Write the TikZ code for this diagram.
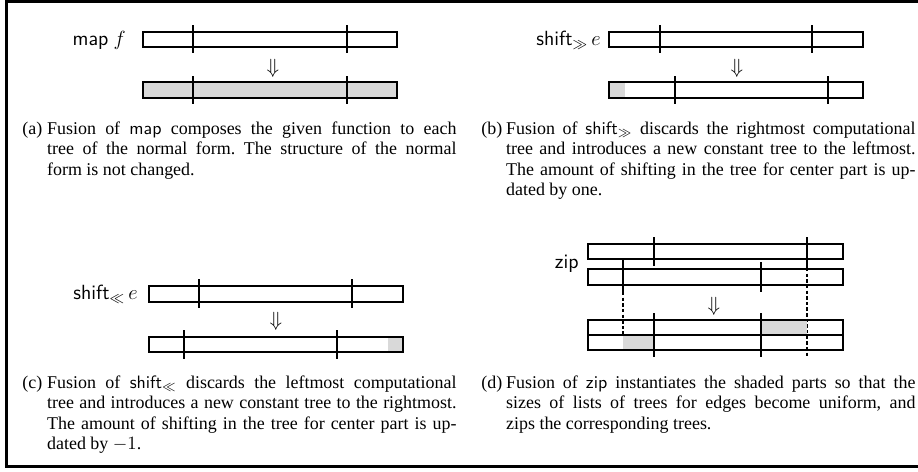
\documentclass[tikz,border=0pt]{standalone}
\usepackage{fontspec}
\setmainfont{Liberation Serif}
\tikzset{
  barbox/.style={draw, line width=0.6pt},
  grayfill/.style={fill=black!15},
  tk/.style={line width=0.8pt},
  vdash/.style={line width=0.6pt, dash pattern=on 2pt off 1.3pt},
  lbl/.style={font=\large, anchor=east, inner sep=0pt},
  arr/.style={inner sep=0pt, font=\large},
  captxt/.style={anchor=base west, inner sep=0pt},
  framestyle/.style={line width=1.75pt, line join=miter}
}
\newcommand{\capbox}[2]{\begin{minipage}[t]{254pt}\fontsize{10.5pt}{12pt}\selectfont\frenchspacing\hangindent=14.5pt\hangafter=1\noindent\makebox[14.5pt][l]{(#1)}#2\end{minipage}}
\begin{document}
\begin{tikzpicture}[x=0.585pt, y=-0.585pt]
\useasboundingbox (0,0) rectangle (918,471);
% frame
\draw[framestyle] (918,1.5) -- (6.7,1.5) -- (6.7,466) -- (918,466);

% ---------- (a) ----------
\node[lbl] (la) at (126,40) {\textsf{map} $f$};
\draw[barbox] (143,32) rectangle (397,47);
\draw[tk] (193,25) -- (193,53) (347,25) -- (347,53);
\node[arr] (aa) at (273,68) {$\Downarrow$};
\draw[barbox, grayfill] (143,82) rectangle (397,98);
\draw[tk] (193,76) -- (193,104) (347,76) -- (347,104);
\node[captxt] (ca) at (22,134) {\capbox{a}{Fusion of \textsf{map} composes the given function to each\linebreak tree of the normal form. The structure of the normal\linebreak form is not changed.}};

% ---------- (b) ----------
\node[lbl] (lb) at (601,40) {$\mathsf{shift}_{\gg}\,e$};
\draw[barbox] (609,32) rectangle (863,47);
\draw[tk] (660,25) -- (660,53) (812,25) -- (812,53);
\node[arr] (ab) at (737,68) {$\Downarrow$};
\fill[grayfill] (609,82) rectangle (625,98);
\draw[barbox] (609,82) rectangle (863,98);
\draw[tk] (675,76) -- (675,104) (828,76) -- (828,104);
\node[captxt] (cb) at (481,134) {\capbox{b}{Fusion of $\mathsf{shift}_{\gg}$ discards the rightmost computational\linebreak tree and introduces a new constant tree to the leftmost.\linebreak The amount of shifting in the tree for center part is up-\linebreak dated by one.}};

% ---------- (c) ----------
\node[lbl] (lc) at (138,294) {$\mathsf{shift}_{\ll}\,e$};
\draw[barbox] (149,286) rectangle (403,302);
\draw[tk] (199,279) -- (199,308) (352,279) -- (352,308);
\node[arr] (ac) at (276,321) {$\Downarrow$};
\fill[grayfill] (388,337) rectangle (403,352);
\draw[barbox] (149,337) rectangle (403,352);
\draw[tk] (184,330) -- (184,359) (337,330) -- (337,359);
\node[captxt] (cc) at (22,388) {\capbox{c}{Fusion of $\mathsf{shift}_{\ll}$ discards the leftmost computational\linebreak tree and introduces a new constant tree to the rightmost.\linebreak The amount of shifting in the tree for center part is up-\linebreak dated by $-1$.}};

% ---------- (d) ----------
\node[lbl] (ld) at (579,264) {\textsf{zip}};
\draw[vdash] (623,292) -- (623,335);
\draw[vdash] (807,268) -- (807,358);
\draw[barbox] (588,244) rectangle (843,259);
\draw[barbox] (588,269) rectangle (843,285);
\draw[tk] (654,237) -- (654,266) (807,237) -- (807,268);
\draw[tk] (623,258) -- (623,292) (761,262) -- (761,292);
\node[arr] (ad) at (714,306) {$\Downarrow$};
\fill[grayfill] (761,320) rectangle (807,335);
\fill[grayfill] (623,335) rectangle (654,350);
\draw[barbox] (588,320) rectangle (843,335);
\draw[barbox] (588,335) rectangle (843,350);
\draw[tk] (654,313) -- (654,357) (761,313) -- (761,357);
\node[captxt] (cd) at (481,388) {\capbox{d}{Fusion of \textsf{zip} instantiates the shaded parts so that the\linebreak sizes of lists of trees for edges become uniform, and\linebreak zips the corresponding trees.}};
\end{tikzpicture}
\end{document}
